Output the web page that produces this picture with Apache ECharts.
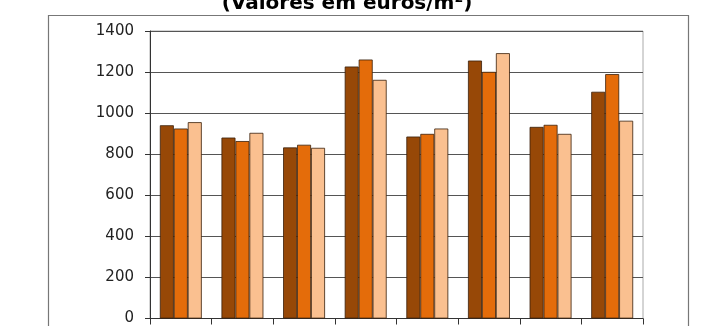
<!DOCTYPE html>
<html>
<head>
<meta charset="utf-8">
<script src="https://cdn.jsdelivr.net/npm/echarts@6/dist/echarts.min.js"></script>
<style>html,body{margin:0;padding:0;background:#fff}#c{width:712px;height:326px}</style>
</head>
<body>
<div id="c"></div>
<script>
const categories = ['1', '2', '3', '4', '5', '6', '7', '8'];
const seriesNames = ['Série 1', 'Série 2', 'Série 3'];
const series1 = [941, 881, 833, 1227, 886, 1256, 933, 1104];
const series2 = [925, 864, 846, 1261, 899, 1201, 943, 1190];
const series3 = [956, 904, 831, 1162, 925, 1292, 899, 963];
const colors = ['#974807', '#E46C0A', '#FAC090'];
const yTicks = [0, 200, 400, 600, 800, 1000, 1200, 1400];
const titleText = '(Valores em euros/m\u00B2)';

const chart = echarts.init(document.getElementById('c'), null, {renderer: 'canvas'});
const data = [series1, series2, series3];
chart.setOption({
  animation: false,
  backgroundColor: '#fff',
  graphic: [
    {type: 'rect', shape: {x: 48.5, y: 15.5, width: 640, height: 330}, style: {fill: 'none', stroke: '#777', lineWidth: 1.2}, z: 0},
    {type: 'text', x: 347, y: 14, style: {text: titleText, font: 'bold 20px "DejaVu Sans", Verdana, sans-serif', fill: '#000', align: 'center', verticalAlign: 'bottom'}, z: 10}
  ],
  grid: {left: 150, right: 69, top: 31, bottom: 7, containLabel: false, show: true, borderColor: '#aaa', borderWidth: 1},
  xAxis: {
    type: 'category', data: categories,
    axisLine: {lineStyle: {color: '#333', width: 1}},
    axisTick: {show: true, length: 6, lineStyle: {color: '#333'}},
    axisLabel: {show: false},
    splitLine: {show: false}
  },
  yAxis: {
    type: 'value', min: yTicks[0], max: yTicks[yTicks.length - 1], interval: 200,
    axisLine: {show: true, lineStyle: {color: '#333', width: 1}},
    axisTick: {show: true, length: 5, lineStyle: {color: '#333'}},
    axisLabel: {color: '#222', fontSize: 15, fontFamily: '"DejaVu Sans", Verdana, sans-serif', margin: 16, formatter: v => String(v)},
    splitLine: {show: true, lineStyle: {color: '#555', width: 1}}
  },
  series: data.map((d, i) => ({
    name: seriesNames[i], type: 'bar', data: d,
    barGap: '0%', barCategoryGap: '32%',
    itemStyle: {color: colors[i], borderColor: '#3a1f0a', borderWidth: 0.8}
  }))
});
</script>
</body>
</html>
